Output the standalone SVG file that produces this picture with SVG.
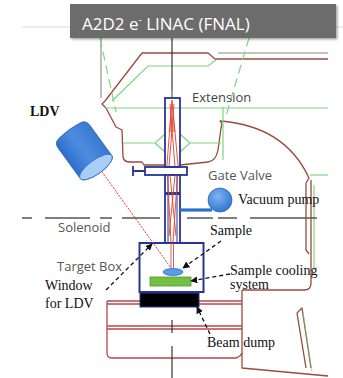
<svg xmlns="http://www.w3.org/2000/svg" width="343" height="378" viewBox="0 0 343 378">
  <defs>
    <style>
      .brown { fill: none; stroke: #9a4a3c; stroke-width: 1.3; stroke-linejoin: round; }
      .red2 { fill: none; stroke: #b84848; stroke-width: 1.3; }
      .green { fill: none; stroke: #7ed67e; stroke-width: 1.2; }
      .gdash { fill: none; stroke: #7ed67e; stroke-width: 1.2; stroke-dasharray: 9 5; }
      .navy { fill: none; stroke: #27359a; stroke-width: 1.8; }
      .beam { fill: none; stroke: #e0402e; stroke-width: 0.9; }
      .axis { fill: none; stroke: #555; stroke-width: 1.3; }
      .call { fill: none; stroke: #111; stroke-width: 1.3; stroke-dasharray: 4 3; marker-end: url(#tip); }
      .sans { font-family: "Open Sans", "Liberation Sans", sans-serif; font-size: 13px; fill: #555; }
      .serif { font-family: "Liberation Serif", "DejaVu Serif", serif; font-size: 14px; fill: #111; }
    </style>
    <marker id="tip" viewBox="0 0 10 10" refX="9" refY="5" markerWidth="7" markerHeight="7" markerUnits="userSpaceOnUse" orient="auto">
      <path d="M0,0 L10,5 L0,10 Z" fill="#111"/>
    </marker>
    <linearGradient id="ldvBody" x1="0" y1="0" x2="1" y2="0">
      <stop offset="0" stop-color="#2f6fcc"/>
      <stop offset="0.5" stop-color="#4d8de0"/>
      <stop offset="1" stop-color="#3a78d2"/>
    </linearGradient>
    <radialGradient id="pumpFill" cx="0.4" cy="0.35" r="0.7">
      <stop offset="0" stop-color="#7fb4f0"/>
      <stop offset="1" stop-color="#2f72d0"/>
    </radialGradient>
    <filter id="soft" x="-5%" y="-10%" width="112%" height="130%">
      <feDropShadow dx="1.5" dy="1.5" stdDeviation="1.2" flood-color="#000" flood-opacity="0.35"/>
    </filter>
  </defs>

  <rect width="343" height="378" fill="#fff"/>

  <!-- faint header rule -->
  <line x1="22" y1="27" x2="343" y2="27" stroke="#dcdcdc" stroke-width="1"/>

  <!-- accelerator hall outline (upper) -->
  <g id="hall-upper">
    <line x1="101" y1="38" x2="101" y2="98" stroke="#888" stroke-width="1.1"/>
    <line x1="218" y1="53" x2="328" y2="53" stroke="#8a8a8a" stroke-width="1.2"/>
    <path class="brown" d="M328,59 L215,59 L208,53 L142,53 L105,101 L102,104 L106,108 L116,127 L122,130 L123,157 Q124,162 130,162 L142,162 L144,165 L165,165"/>
    <path class="brown" d="M180,165 L208,162 Q216,161 218,150 L221,128 L222,124"/>
    <path class="brown" d="M222,124 L220,121 Q285,126 309,178 L306,183 L306,250 L309,254"/>
    <path class="brown" d="M311,180 L311,283 Q311,290 304,290 L242,290"/>
    <path class="green" d="M105,108 L328,108"/>
    <path class="green" d="M112,101 L148,66 L208,66 L216,60"/>
    <path class="green" d="M223,107 L223,160"/>
    <path class="green" d="M310,175 L328,175"/>
    <path class="green" d="M314,185 L314,270"/>
    <path class="green" d="M123,143 L155,143 L165,134 M155,143 L165,152 M180,134 L190,143 L180,152 M190,143 L221,143"/>
    <path class="gdash" d="M100,38 L116,112"/>
    <path class="gdash" d="M249,38 L226,116"/>
  </g>

  <!-- hall outline (lower, beam dump area) -->
  <g id="hall-lower">
    <path class="red2" d="M107,301 L242,301 M107,304 L242,304"/>
    <path class="red2" d="M107,301 L107,353 Q107,358 112,358 L236,358 Q240,357 242,353"/>
    <path class="red2" d="M107,326 L242,326 M107,329 L242,329"/>
    <path class="brown" d="M242,290 L242,368 L328,376"/>
    <path class="brown" d="M297,313 L302,308 L311,368 M297,313 L306,368"/>
    <path class="green" d="M303,312 L312,372" opacity="0.6"/>
  </g>

  <!-- beam axis -->
  <g id="axis">
    <line x1="172" y1="38" x2="172" y2="98" stroke="#222" stroke-width="1.1"/>
    <line x1="172" y1="90" x2="172" y2="98" stroke="#7ed67e" stroke-width="1"/>
    <line x1="172" y1="320" x2="172" y2="333" stroke="#222" stroke-width="1.1"/>
    <line x1="172" y1="346" x2="172" y2="378" stroke="#222" stroke-width="1.1"/>
  </g>

  <!-- solenoid centre line -->
  <g id="solenoid-line">
    <path class="axis" d="M22,218 H32 M45,218 H90 M100,218 H112 M122,218 H160 M187,218 H213 M218,218 H237 M250,218 H317"/>
  </g>

  <!-- beam pipe, extension and gate valve -->
  <g id="extension">
    <rect x="165" y="98" width="15" height="69" fill="#fff" class="navy"/>
    <path d="M172,101 L168.5,132 L175.5,132 Z" fill="#f07a60" opacity="0.7"/>
    <path class="beam" d="M172,100 L166.8,167 M172,100 L178.2,167 M170,104 L175,167 M174,104 L169,167"/>
  </g>
  <g id="gate-valve">
    <rect x="145" y="167" width="42" height="8" fill="#fff" class="navy"/>
    <path class="navy" d="M133,171 H145 M133,166 V176"/>
  </g>
  <g id="beam-pipe">
    <rect x="165" y="175" width="15" height="68" fill="#fff" class="navy"/>
    <path d="M168,175 V243 M177,175 V243" stroke="#27359a" stroke-width="1" fill="none"/>
    <rect x="165" y="192" width="15" height="3" fill="#27359a"/>
    <path class="beam" d="M167.5,175 L171,243 M177.5,175 L173,243 M170,175 L176,236 M175,175 L169,236"/>
  </g>

  <!-- vacuum pump -->
  <g id="vacuum-pump">
    <path d="M180,210 H212" stroke="#2f6fcc" stroke-width="3.2" fill="none"/>
    <circle cx="220" cy="200" r="12" fill="url(#pumpFill)" stroke="#2c66c0" stroke-width="0.8"/>
  </g>

  <!-- target box with sample, cooling plate, beam dump -->
  <g id="target-box">
    <rect x="139.5" y="243" width="64" height="49" fill="#fff" stroke="#27359a" stroke-width="2"/>
    <path d="M171,243 V268 M173.5,243 V268" stroke="#c85050" stroke-width="0.9" fill="none"/>
  </g>
  <g id="sample">
    <ellipse cx="173" cy="272" rx="10" ry="3.5" fill="#5b9ae6" stroke="#2f6fcc" stroke-width="0.8"/>
  </g>
  <g id="cooling-system">
    <rect x="150" y="277" width="41" height="9" fill="#74c043" stroke="#4e9a2e" stroke-width="0.8"/>
  </g>
  <g id="beam-dump">
    <rect x="140" y="293" width="59" height="14" fill="#000" stroke="#27359a" stroke-width="1"/>
  </g>

  <!-- laser vibrometer -->
  <g id="ldv">
    <line x1="100" y1="169" x2="171" y2="268" stroke="#e03030" stroke-width="1" stroke-dasharray="2 1.2"/>
    <g transform="translate(96,167) rotate(-36)">
      <path d="M-19.5,0 L-19.5,-38 Q-19.5,-44 -13,-45 Q0,-47 13,-45 Q19.5,-44 19.5,-38 L19.5,0 A19.5,7 0 0 1 -19.5,0 Z" fill="url(#ldvBody)" stroke="#2c62b8" stroke-width="0.8"/>
      <ellipse cx="0" cy="0" rx="19.5" ry="7" fill="#a9cdf6" stroke="#3a74c8" stroke-width="0.9"/>
    </g>
  </g>

  <!-- callouts -->
  <g id="connectors">
    <line class="call" x1="106" y1="290" x2="152" y2="244"/>
    <line class="call" x1="221" y1="241" x2="183" y2="268"/>
    <line class="call" x1="230" y1="274" x2="191" y2="281"/>
    <line class="call" x1="210" y1="334" x2="197" y2="307"/>
  </g>

  <!-- labels -->
  <g id="labels">
    <text class="sans" x="192" y="102" fill="#444" style="fill:#444">Extension</text>
    <text class="sans" x="208" y="180">Gate Valve</text>
    <text class="sans" x="58" y="232">Solenoid</text>
    <text class="sans" x="57" y="271">Target Box</text>
    <text class="serif" x="30" y="116" font-weight="bold" font-size="13">LDV</text>
    <text class="serif" x="238" y="204">Vacuum pump</text>
    <text class="serif" x="210" y="235">Sample</text>
    <text class="serif" x="230" y="275" font-size="14.5">Sample cooling</text>
    <text class="serif" x="230" y="289" font-size="14.5">system</text>
    <text class="serif" x="207" y="347">Beam dump</text>
    <text class="serif" x="45" y="290" font-size="16">Window</text>
    <text class="serif" x="45" y="308" font-size="16">for LDV</text>
  </g>

  <!-- title bar -->
  <g id="title">
    <rect x="70" y="4" width="266" height="34" fill="#6c6c6c" filter="url(#soft)"/>
    <text x="82" y="30" font-family="'Open Sans', 'Liberation Sans', sans-serif" font-size="17" fill="#fff">A2D2 e<tspan font-size="10" dy="-7">-</tspan><tspan dy="7"> LINAC (FNAL)</tspan></text>
  </g>
</svg>
